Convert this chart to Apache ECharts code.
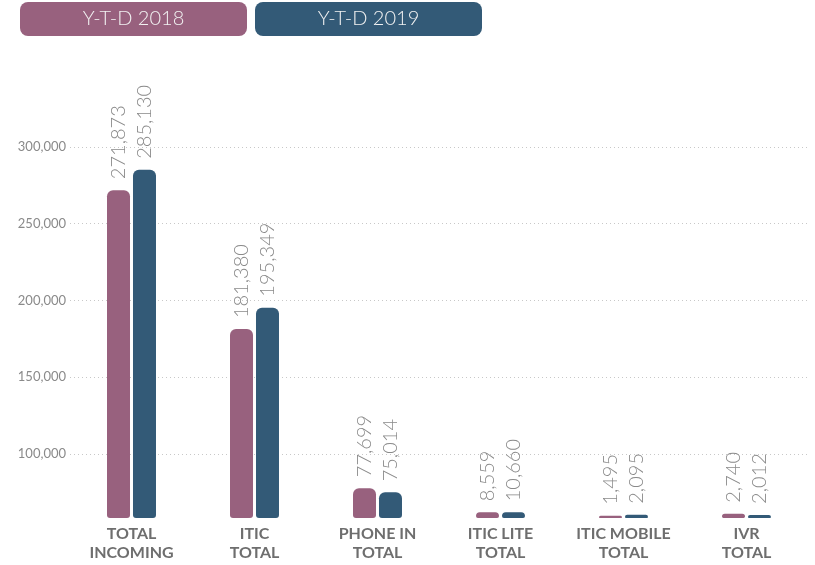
<!DOCTYPE html>
<html>
<head>
<meta charset="utf-8">
<script src="https://cdn.jsdelivr.net/npm/echarts@6/dist/echarts.min.js"></script>
<style>
    html, body { margin: 0; padding: 0; background: #fff; }
    #main { width: 815px; height: 565px; }
</style>
</head>
<body>
<div id="main"></div>
<script>
// 数据
var categories = ['TOTAL\nINCOMING', 'ITIC\nTOTAL', 'PHONE IN\nTOTAL', 'ITIC LITE\nTOTAL', 'ITIC MOBILE\nTOTAL', 'IVR\nTOTAL'];
var ytd2018 = [271873, 181380, 77699, 8559, 1495, 2740];
var ytd2019 = [285130, 195349, 75014, 10660, 2095, 2012];
var seriesNames = ['Y-T-D 2018', 'Y-T-D 2019'];
var colors = ['#98617e', '#335a77'];

function fmt(v) {
    return Number(v).toLocaleString('en-US');
}

var chart = echarts.init(document.getElementById('main'));

var valueLabel = {
    show: true,
    position: 'top',
    rotate: 90,
    align: 'left',
    verticalAlign: 'middle',
    distance: 11,
    fontFamily: 'Lato',
    fontWeight: 300,
    fontSize: 20,
    color: '#8a8a8a',
    formatter: function (p) { return fmt(p.value); }
};

function legendItem(i, key) {
    return {
        name: seriesNames[i],
        textStyle: {
            rich: {
                [key]: {
                    width: 227,
                    height: 34,
                    align: 'center',
                    backgroundColor: colors[i],
                    borderRadius: 8,
                    color: '#f2f2f2',
                    fontFamily: 'Lato',
                    fontWeight: 300,
                    fontSize: 20
                }
            }
        }
    };
}

var option = {
    animation: false,
    legend: {
        top: 2,
        left: 15,
        padding: 0,
        itemGap: 3,
        itemWidth: 0,
        itemHeight: 0,
        selectedMode: false,
        data: [legendItem(0, 'a'), legendItem(1, 'b')],
        formatter: function (name) {
            return name === seriesNames[0] ? '{a|' + name + '}' : '{b|' + name + '}';
        }
    },
    grid: {
        left: 67,
        right: 7,
        top: 147,
        bottom: 47
    },
    xAxis: {
        type: 'category',
        data: categories,
        axisLine: { show: false },
        axisTick: { show: false },
        axisLabel: {
            margin: 6,
            fontFamily: 'Lato',
            fontWeight: 'bold',
            fontSize: 16,
            lineHeight: 19,
            color: '#6e6e6e'
        }
    },
    yAxis: {
        type: 'value',
        min: 0,
        max: 300000,
        interval: 50000,
        // 断轴：压缩 0 ~ 100,000 之间的空白
        breaks: [{ start: 3700, end: 62000, gap: 0 }],
        breakArea: { show: false },
        axisLine: { show: false },
        axisTick: { show: false },
        axisLabel: {
            margin: 4,
            fontFamily: 'Lato',
            fontSize: 13,
            color: '#8a8a8a',
            formatter: function (v) { return v >= 100000 ? fmt(v) : ''; }
        },
        splitLine: {
            showMinLine: false,
            lineStyle: { color: '#c8c8c8', type: [1, 3] }
        }
    },
    series: [
        {
            name: seriesNames[0],
            type: 'bar',
            data: ytd2018,
            barWidth: 23,
            barGap: '13%',
            itemStyle: { color: colors[0], borderRadius: [6, 6, 3, 3] },
            label: valueLabel
        },
        {
            name: seriesNames[1],
            type: 'bar',
            data: ytd2019,
            barWidth: 23,
            itemStyle: { color: colors[1], borderRadius: [6, 6, 3, 3] },
            label: valueLabel
        }
    ]
};

chart.setOption(option);
</script>
</body>
</html>
